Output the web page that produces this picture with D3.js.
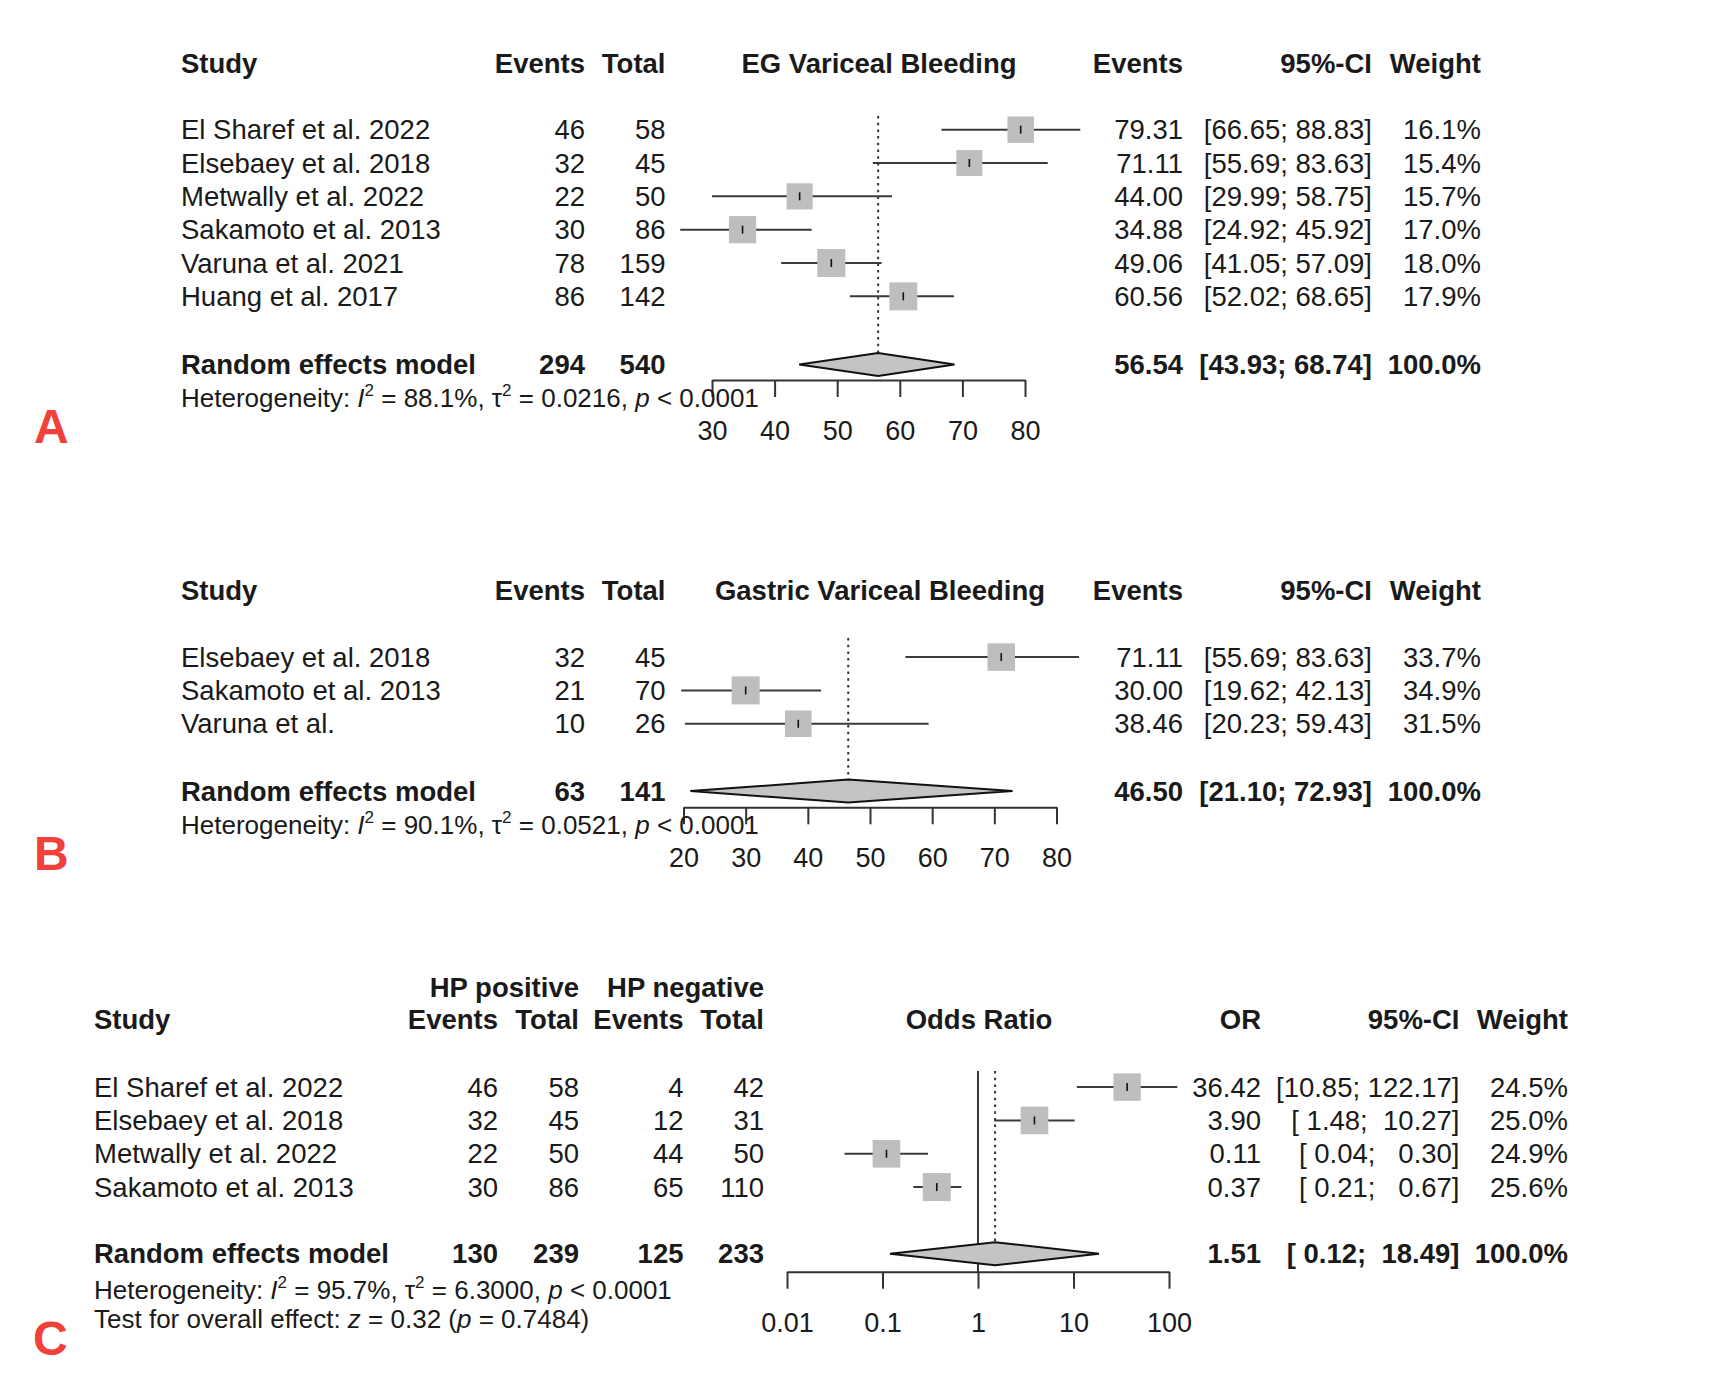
<!doctype html>
<html>
<head>
<script src="https://cdnjs.cloudflare.com/ajax/libs/d3/7.8.5/d3.min.js"></script>
<style>
body { margin: 0; background: #fff; }
svg text { font-family: "Liberation Sans", Arial, Helvetica, sans-serif; fill: #1a1a1a; }
</style>
</head>
<body>
<div id="chart"></div>
<script>
// ---- panel A: EG variceal bleeding
var studiesA = ["El Sharef et al. 2022", "Elsebaey et al. 2018", "Metwally et al. 2022", "Sakamoto et al. 2013", "Varuna et al. 2021", "Huang et al. 2017"];
var eventsA = [46, 32, 22, 30, 78, 86];
var totalsA = [58, 45, 50, 86, 159, 142];
var estA = [79.31, 71.11, 44.00, 34.88, 49.06, 60.56];
var lowerA = [66.65, 55.69, 29.99, 24.92, 41.05, 52.02];
var upperA = [88.83, 83.63, 58.75, 45.92, 57.09, 68.65];
var weightA = [16.1, 15.4, 15.7, 17.0, 18.0, 17.9];
var pooledA = [294, 540, 56.54, 43.93, 68.74];
var hetA = ["88.1%", "0.0216", "< 0.0001"];
var ticksA = [30, 40, 50, 60, 70, 80];

// ---- panel B: gastric variceal bleeding
var studiesB = ["Elsebaey et al. 2018", "Sakamoto et al. 2013", "Varuna et al."];
var eventsB = [32, 21, 10];
var totalsB = [45, 70, 26];
var estB = [71.11, 30.00, 38.46];
var lowerB = [55.69, 19.62, 20.23];
var upperB = [83.63, 42.13, 59.43];
var weightB = [33.7, 34.9, 31.5];
var pooledB = [63, 141, 46.50, 21.10, 72.93];
var hetB = ["90.1%", "0.0521", "< 0.0001"];
var ticksB = [20, 30, 40, 50, 60, 70, 80];

// ---- panel C: HP positive vs negative, odds ratio
var studiesC = ["El Sharef et al. 2022", "Elsebaey et al. 2018", "Metwally et al. 2022", "Sakamoto et al. 2013"];
var posEventsC = [46, 32, 22, 30];
var posTotalsC = [58, 45, 50, 86];
var negEventsC = [4, 12, 44, 65];
var negTotalsC = [42, 31, 50, 110];
var estC = [36.42, 3.90, 0.11, 0.37];
var lowerC = [10.85, 1.48, 0.04, 0.21];
var upperC = [122.17, 10.27, 0.30, 0.67];
var weightC = [24.5, 25.0, 24.9, 25.6];
var pooledC = [130, 239, 125, 233, 1.51, 0.12, 18.49];
var hetC = ["95.7%", "6.3000", "< 0.0001"];
var testC = ["0.32", "0.7484"];
var ticksC = [0.01, 0.1, 1, 10, 100];
var tickLabelsC = ["0.01", "0.1", "1", "10", "100"];

var W = 1710, H = 1376, FS = 27.5;
var f2 = d3.format(".2f"), f1 = d3.format(".1f");

var svg = d3.select("#chart").append("svg")
  .attr("width", W).attr("height", H)
  .style("font-size", FS + "px");

function txt(g, x, y, s, anchor, bold) {
  return g.append("text").attr("x", x).attr("y", y)
    .attr("text-anchor", anchor || "start")
    .attr("font-weight", bold ? "bold" : "normal")
    .style("white-space", "pre")
    .text(s);
}

function ciText(lo, hi, wl, wu) {
  return "[" + f2(lo).padStart(wl) + "; " + f2(hi).padStart(wu) + "]";
}

// text line with italic / superscript pieces
function richLine(g, x, y, parts) {
  var t = g.append("text").attr("x", x).attr("y", y).attr("font-size", 26).style("white-space", "pre");
  var up = false;
  parts.forEach(function(p) {
    var s = t.append("tspan").text(p[0]);
    if (p[1] === "i") s.attr("font-style", "italic");
    if (p[1] === "sup") { s.attr("font-size", 17).attr("dy", -11); up = true; }
    else if (up) { s.attr("dy", 11); up = false; }
  });
}

function hetLine(g, x, y, h) {
  richLine(g, x, y, [["Heterogeneity: "], ["I", "i"], ["2", "sup"], [" = " + h[0] + ", \u03c4"], ["2", "sup"],
    [" = " + h[1] + ", "], ["p", "i"], [" " + h[2]]]);
}

function forest(g, o) {
  var x = o.x;
  var y = d3.scaleLinear().domain([0, 1]).range([o.row0, o.row0 + 33.33]);
  var off = 9.6;
  var n = o.est.length;
  var maxW = d3.max(o.weight);
  var size = function(w) { return 28 * Math.sqrt(w / maxW); };
  var yp = o.pooledY - off;

  // reference line at 1 (odds ratio only)
  if (o.nullLine) {
    g.append("line").attr("x1", x(1)).attr("x2", x(1))
      .attr("y1", o.lineTop).attr("y2", o.axisY)
      .attr("stroke", "#222").attr("stroke-width", 1.8);
  }
  // random effects line
  g.append("line").attr("x1", x(o.pooled[0])).attr("x2", x(o.pooled[0]))
    .attr("y1", o.lineTop).attr("y2", yp - 11.5)
    .attr("stroke", "#333").attr("stroke-width", 2).attr("stroke-dasharray", "2.5,4.2");

  var idx = d3.range(n);
  g.selectAll(".ci").data(idx).enter().append("line")
    .attr("x1", function(i) { return x(o.lower[i]); })
    .attr("x2", function(i) { return x(o.upper[i]); })
    .attr("y1", function(i) { return y(i) - off; })
    .attr("y2", function(i) { return y(i) - off; })
    .attr("stroke", "#3a3a3a").attr("stroke-width", 2);
  g.selectAll(".sq").data(idx).enter().append("rect")
    .attr("x", function(i) { return x(o.est[i]) - size(o.weight[i]) / 2; })
    .attr("y", function(i) { return y(i) - off - size(o.weight[i]) / 2; })
    .attr("width", function(i) { return size(o.weight[i]); })
    .attr("height", function(i) { return size(o.weight[i]); })
    .attr("fill", "#bebebe");
  g.selectAll(".mk").data(idx).enter().append("line")
    .attr("x1", function(i) { return x(o.est[i]); })
    .attr("x2", function(i) { return x(o.est[i]); })
    .attr("y1", function(i) { return y(i) - off - 4; })
    .attr("y2", function(i) { return y(i) - off + 4; })
    .attr("stroke", "#111").attr("stroke-width", 1.6);

  // diamond
  var pts = [[x(o.pooled[1]), yp], [x(o.pooled[0]), yp - 11.5], [x(o.pooled[2]), yp], [x(o.pooled[0]), yp + 11.5]];
  g.append("polygon").attr("points", pts.map(function(p) { return p.join(","); }).join(" "))
    .attr("fill", "#c4c4c4").attr("stroke", "#111").attr("stroke-width", 2);

  // axis
  var ax = d3.axisBottom(x).tickValues(o.ticks).tickSize(17).tickSizeOuter(0).tickPadding(24)
    .tickFormat(function(d, i) { return o.tickLabels ? o.tickLabels[i] : d; });
  var a = g.append("g").attr("transform", "translate(0," + o.axisY + ")").call(ax);
  a.select(".domain").attr("stroke", "#333").attr("stroke-width", 2);
  a.selectAll(".tick line").attr("stroke", "#333").attr("stroke-width", 2);
  a.selectAll(".tick text").attr("font-size", 27).attr("font-family", null).attr("fill", "#1a1a1a");

  // left table
  txt(g, o.studyX, o.headY, "Study", "start", true);
  o.leftHead.forEach(function(h, j) { txt(g, o.leftCols[j], o.headY, h, "end", true); });
  if (o.topHead) o.topHead.forEach(function(h) { txt(g, h[1], o.headY - 32.5, h[0], "end", true); });
  o.studies.forEach(function(s, i) {
    txt(g, o.studyX, y(i), s);
    o.leftVals.forEach(function(col, j) { txt(g, o.leftCols[j], y(i), col[i], "end"); });
  });
  txt(g, o.studyX, o.pooledY, "Random effects model", "start", true);
  o.leftPooled.forEach(function(v, j) { txt(g, o.leftCols[j], o.pooledY, v, "end", true); });

  // plot header
  txt(g, o.headCx, o.headY, o.title, "middle", true);

  // right table
  var wl = d3.max(o.lower.concat([o.pooled[1]]), function(v) { return f2(v).length; });
  var wu = d3.max(o.upper.concat([o.pooled[2]]), function(v) { return f2(v).length; });
  txt(g, o.rightCols[0], o.headY, o.estHead, "end", true);
  txt(g, o.rightCols[1], o.headY, "95%-CI", "end", true);
  txt(g, o.rightCols[2], o.headY, "Weight", "end", true);
  idx.forEach(function(i) {
    txt(g, o.rightCols[0], y(i), f2(o.est[i]), "end");
    txt(g, o.rightCols[1], y(i), ciText(o.lower[i], o.upper[i], wl, wu), "end");
    txt(g, o.rightCols[2], y(i), f1(o.weight[i]) + "%", "end");
  });
  txt(g, o.rightCols[0], o.pooledY, f2(o.pooled[0]), "end", true);
  txt(g, o.rightCols[1], o.pooledY, ciText(o.pooled[1], o.pooled[2], wl, wu), "end", true);
  txt(g, o.rightCols[2], o.pooledY, "100.0%", "end", true);

  hetLine(g, o.studyX, o.hetY, o.het);

  // panel letter
  g.append("text").attr("x", o.letterX).attr("y", o.letterY).text(o.letter)
    .attr("font-size", 48).attr("font-weight", "bold").style("fill", "#f2403a");
}

forest(svg.append("g"), {
  x: d3.scaleLinear().domain([30, 80]).range([712, 1025]),
  ticks: ticksA, row0: 139.3, pooledY: 374, hetY: 407, axisY: 380, headY: 73, lineTop: 116,
  studies: studiesA, est: estA, lower: lowerA, upper: upperA, weight: weightA,
  pooled: pooledA.slice(2), leftPooled: pooledA.slice(0, 2), het: hetA,
  studyX: 181, leftCols: [585, 665.5], leftHead: ["Events", "Total"], leftVals: [eventsA, totalsA],
  title: "EG Variceal Bleeding", headCx: 879, estHead: "Events", rightCols: [1183, 1372, 1481],
  letter: "A", letterX: 34, letterY: 443
});

forest(svg.append("g"), {
  x: d3.scaleLinear().domain([20, 80]).range([683.5, 1056.5]),
  ticks: ticksB, row0: 666.7, pooledY: 800.7, hetY: 834, axisY: 807.3, headY: 600, lineTop: 638,
  studies: studiesB, est: estB, lower: lowerB, upper: upperB, weight: weightB,
  pooled: pooledB.slice(2), leftPooled: pooledB.slice(0, 2), het: hetB,
  studyX: 181, leftCols: [585, 665.5], leftHead: ["Events", "Total"], leftVals: [eventsB, totalsB],
  title: "Gastric Variceal Bleeding", headCx: 880, estHead: "Events", rightCols: [1183, 1372, 1481],
  letter: "B", letterX: 34, letterY: 870
});

var gC = svg.append("g");
forest(gC, {
  x: d3.scaleLog().domain([0.01, 100]).range([787, 1169]), nullLine: true,
  ticks: ticksC, tickLabels: tickLabelsC, row0: 1096.7, pooledY: 1263.3, hetY: 1299.3, axisY: 1271.7,
  headY: 1029, lineTop: 1071,
  studies: studiesC, est: estC, lower: lowerC, upper: upperC, weight: weightC,
  pooled: pooledC.slice(4), leftPooled: pooledC.slice(0, 4), het: hetC,
  studyX: 94, leftCols: [498, 579, 683.5, 764], leftHead: ["Events", "Total", "Events", "Total"],
  leftVals: [posEventsC, posTotalsC, negEventsC, negTotalsC],
  topHead: [["HP positive", 579], ["HP negative", 764]],
  title: "Odds Ratio", headCx: 979, estHead: "OR", rightCols: [1261, 1459.5, 1568],
  letter: "C", letterX: 33, letterY: 1355
});
richLine(gC, 94, 1328.3, [["Test for overall effect: "], ["z", "i"], [" = " + testC[0] + " ("], ["p", "i"], [" = " + testC[1] + ")"]]);
</script>
</body>
</html>
